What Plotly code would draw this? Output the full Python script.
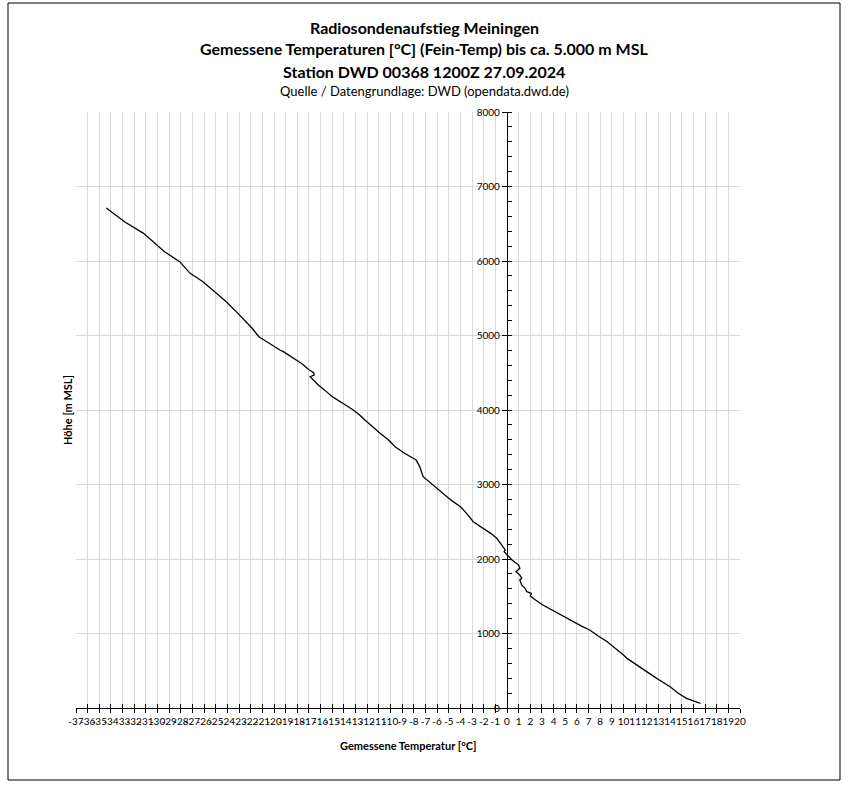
import plotly.graph_objects as go

# Radiosondenaufstieg Meiningen, 27.09.2024 12Z
hoehe_m = [63, 130, 197, 286, 398, 487, 554, 666, 711, 800, 890, 970, 1047, 1100,
           1158, 1240, 1315, 1390, 1450, 1472, 1503, 1540, 1562, 1607, 1651,
           1718, 1741, 1785, 1830, 1875, 1919, 1987, 2054, 2098, 2121, 2188,
           2278, 2344, 2420, 2501, 2600, 2702, 2790, 2881, 2990, 3105, 3150,
           3240, 3329, 3420, 3507, 3600, 3687, 3780, 3866, 3940, 4000, 4090, 4179,
           4260, 4336, 4447, 4470, 4500, 4540, 4620, 4694, 4783, 4805, 4900,
           4984, 5100, 5208, 5330, 5454, 5590, 5722, 5834, 5991, 6125, 6250,
           6371, 6524, 6620, 6711]
temp_c = [16.6, 15.4, 14.7, 14.0, 12.85, 12.0, 11.4, 10.3, 10.0, 9.3, 8.6, 7.8, 7.1, 6.4,
          5.7, 4.8, 3.8, 3.0, 2.45, 2.26, 2.0, 2.1, 1.7, 1.55, 1.26,
          1.1, 1.26, 1.1, 0.77, 1.1, 1.0, 0.43, 0.0, -0.25, -0.15, -0.45,
          -0.88, -1.4, -2.1, -2.9, -3.4, -4.0, -4.8, -5.5, -6.3, -7.2, -7.3,
          -7.5, -7.8, -8.8, -9.6, -10.2, -10.9, -11.6, -12.2, -12.7, -13.2, -14.1, -15.0,
          -15.6, -16.2, -16.9, -16.55, -16.6, -17.0, -17.6, -18.3, -19.2, -19.5, -20.4,
          -21.3, -21.9, -22.6, -23.3, -24.1, -25.1, -26.1, -27.2, -28.1, -29.4, -30.3,
          -31.2, -32.8, -33.6, -34.4]

x_ticks = list(range(-37, 21))
x_labels = [str(v) for v in x_ticks]
y_ticks = list(range(0, 8001, 1000))

schrift = "Lato"
W, H = 848, 787
ml, mr, mt, mb = 76, 108, 112, 79
pw, ph = W - ml - mr, H - mt - mb

def px_x(p):
    return (p - ml) / pw

def px_y(p):
    return (H - mb - p) / ph

fig = go.Figure()
fig.add_trace(go.Scatter(x=temp_c, y=hoehe_m, mode="lines",
                         line=dict(color="black", width=1.3),
                         showlegend=False, hoverinfo="x+y"))
# Dummy-Trace für die zweite x-Achse (Kreuz-Teilstriche)
fig.add_trace(go.Scatter(x=[None], y=[None], xaxis="x2", showlegend=False))

fig.update_layout(
    width=W, height=H,
    margin=dict(l=ml, r=mr, t=mt, b=mb),
    paper_bgcolor="white", plot_bgcolor="white",
    font=dict(family=schrift, color="black", size=10),
    showlegend=False,
    xaxis=dict(range=[-37, 20], tickvals=x_ticks, ticktext=x_labels, tickangle=0,
               showgrid=True, gridcolor="#d9d9d9", gridwidth=1,
               zeroline=False, showline=True, linecolor="black", linewidth=1,
               ticks="outside", ticklen=4, tickcolor="black",
               tickfont=dict(size=10), anchor="y"),
    xaxis2=dict(range=[-37, 20], tickvals=x_ticks, overlaying="x", anchor="y",
                side="bottom", showticklabels=False, showgrid=False, zeroline=False,
                ticks="inside", ticklen=4, tickcolor="black", showline=False),
    yaxis=dict(range=[0, 8000], tickvals=y_ticks, anchor="free", position=37 / 57,
               showgrid=True, gridcolor="#d9d9d9", gridwidth=1,
               zeroline=False, showline=True, linecolor="black", linewidth=1.3,
               ticks="outside", ticklen=5, tickcolor="black",
               minor=dict(ticks="inside", dtick=200, ticklen=4, tickcolor="black",
                          showgrid=False),
               tickfont=dict(size=10)),
)

titel = [
    ("<b>Radiosondenaufstieg Meiningen</b>", 27, 16),
    ("<b>Gemessene Temperaturen [°C] (Fein-Temp) bis ca. 5.000 m MSL</b>", 49, 16),
    ("<b>Station DWD 00368 1200Z 27.09.2024</b>", 71, 16),
    ("Quelle / Datengrundlage: DWD (opendata.dwd.de)", 91, 13),
]
for text, ypix, size in titel:
    fig.add_annotation(text=text, xref="paper", yref="paper", x=px_x(424), y=px_y(ypix),
                       xanchor="center", yanchor="middle", showarrow=False,
                       font=dict(family=schrift, size=size, color="black"))

fig.add_annotation(text="<b>Gemessene Temperatur [°C]</b>", xref="paper", yref="paper",
                   x=px_x(408), y=px_y(745), xanchor="center", yanchor="middle",
                   showarrow=False, font=dict(family=schrift, size=11, color="black"))
fig.add_annotation(text="<b>Höhe [m MSL]</b>", xref="paper", yref="paper",
                   x=px_x(67), y=px_y(410), xanchor="center", yanchor="middle",
                   textangle=-90, showarrow=False,
                   font=dict(family=schrift, size=11, color="black"))

# Rahmen des Diagrammbereichs
fig.add_shape(type="rect", xref="paper", yref="paper",
              x0=px_x(8), x1=px_x(840), y0=px_y(780), y1=px_y(3),
              line=dict(color="black", width=1), fillcolor="rgba(0,0,0,0)")

# Seitenrand des Browsers entfernen, damit die Grafik bei (0,0) beginnt
fig.write_html("out.html", config={"displayModeBar": False},
               post_script="document.body.style.margin='0';")
